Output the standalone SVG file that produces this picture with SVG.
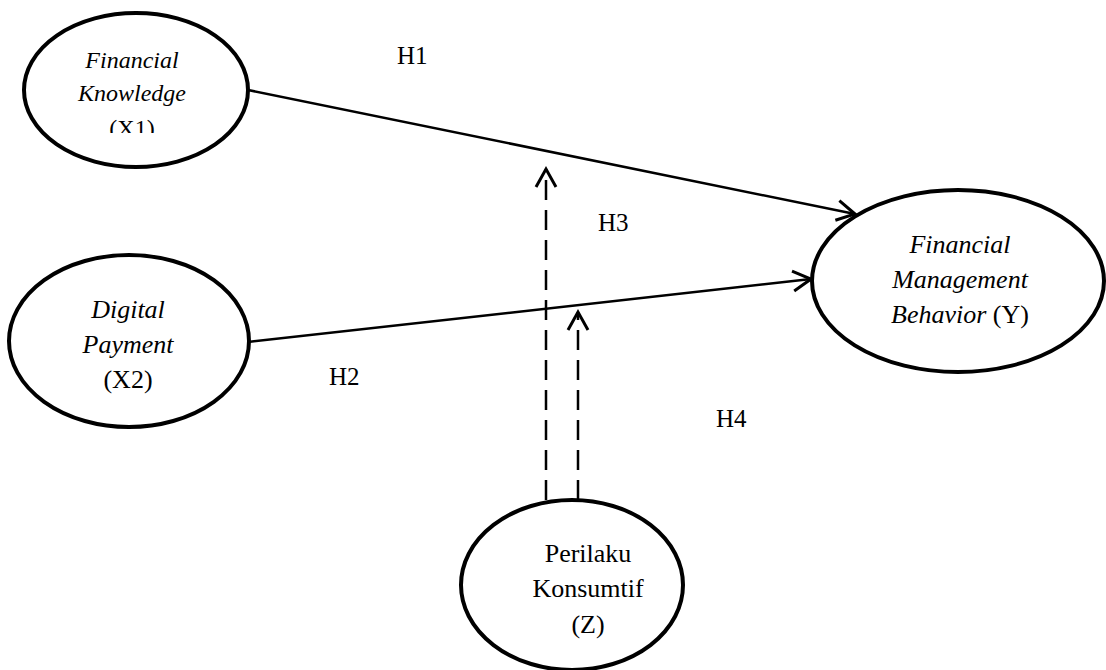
<svg xmlns="http://www.w3.org/2000/svg" width="1106" height="670" viewBox="0 0 1106 670">
<style>
.node{fill:#fff;stroke:#000;stroke-width:4}
.t{font-family:'Liberation Serif','Times New Roman',serif;font-size:26px;fill:#000}
.s{font-size:24px}
.h{font-size:25px}
.c{text-anchor:middle}
.i{font-style:italic}
.ln{stroke:#000;stroke-width:2.5;fill:none}
.dash{stroke-dasharray:20 10}
</style>
<defs>
<marker id="arr" markerUnits="userSpaceOnUse" markerWidth="40" markerHeight="40" viewBox="-25 -20 40 40" refX="0" refY="0" orient="auto" overflow="visible">
<path d="M-18,-10 L0,0 L-18,10" fill="none" stroke="#000" stroke-width="3"/>
</marker>
<clipPath id="clipX1"><rect x="0" y="0" width="300" height="133"/></clipPath>
</defs>
<rect width="1106" height="670" fill="#fff"/>
<g id="connectors">
<line class="ln" x1="248" y1="90" x2="855" y2="214" marker-end="url(#arr)"/>
<line class="ln" x1="248" y1="342" x2="811" y2="279" marker-end="url(#arr)"/>
<line class="ln dash" x1="546" y1="500" x2="546" y2="169" marker-end="url(#arr)"/>
<line class="ln dash" x1="578" y1="500" x2="578" y2="312" marker-end="url(#arr)"/>
</g>
<g id="labels">
<text class="t h" x="397" y="64">H1</text>
<text class="t h" x="598" y="231">H3</text>
<text class="t h" x="329" y="385">H2</text>
<text class="t h" x="716" y="427">H4</text>
</g>
<g id="nodeX1">
<ellipse class="node" cx="136" cy="90" rx="112" ry="77"/>
<text class="t s c i" x="132" y="68">Financial</text>
<text class="t s c i" x="132" y="101">Knowledge</text>
<text class="t s c" x="132" y="136" clip-path="url(#clipX1)">(X1)</text>
</g>
<g id="nodeX2">
<ellipse class="node" cx="129" cy="341" rx="120" ry="86"/>
<text class="t c i" x="128" y="318">Digital</text>
<text class="t c i" x="128" y="353">Payment</text>
<text class="t c" x="128" y="388">(X2)</text>
</g>
<g id="nodeY">
<ellipse class="node" cx="958" cy="281" rx="146" ry="91"/>
<text class="t c i" x="960" y="253">Financial</text>
<text class="t c i" x="960" y="288">Management</text>
<text class="t c" x="960" y="323"><tspan class="i">Behavior</tspan> (Y)</text>
</g>
<g id="nodeZ">
<ellipse class="node" cx="572" cy="585" rx="111" ry="85"/>
<text class="t c" x="588" y="562">Perilaku</text>
<text class="t c" x="588" y="597">Konsumtif</text>
<text class="t c" x="588" y="633">(Z)</text>
</g>
</svg>
